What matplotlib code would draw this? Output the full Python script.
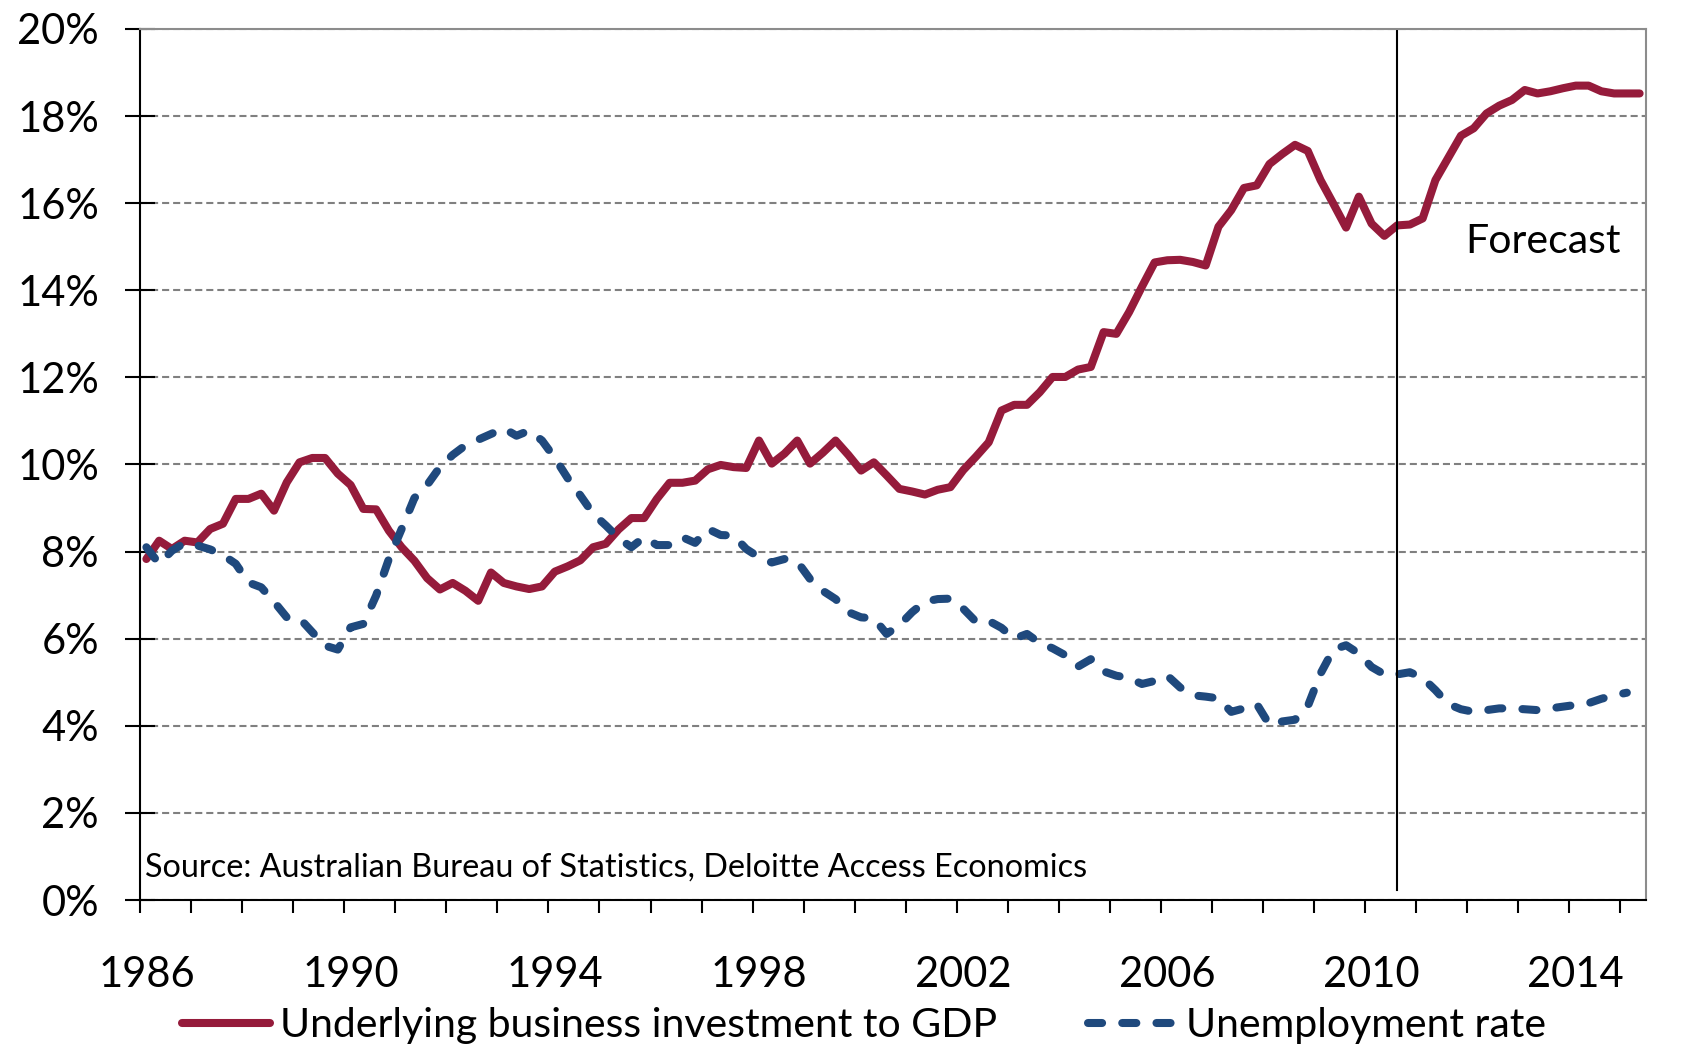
import numpy as np
import matplotlib.pyplot as plt

plt.rcParams['font.family'] = ['Lato', 'DejaVu Sans']

# quarterly, index 0 = 1986
start_year = 1986
forecast_start = 98

investment = [7.83, 8.25, 8.06, 8.25, 8.21, 8.52, 8.64, 9.21, 9.21, 9.33,
              8.94, 9.59, 10.05, 10.15, 10.15, 9.79, 9.53, 8.98, 8.97, 8.48,
              8.10, 7.79, 7.39, 7.13, 7.28, 7.10, 6.87, 7.52, 7.28, 7.20,
              7.14, 7.20, 7.54, 7.66, 7.80, 8.10, 8.18, 8.51, 8.77, 8.77,
              9.21, 9.58, 9.58, 9.63, 9.89, 9.99, 9.94, 9.92, 10.55, 10.02,
              10.25, 10.55, 10.02, 10.27, 10.55, 10.22, 9.86, 10.05, 9.75, 9.44,
              9.38, 9.31, 9.42, 9.48, 9.87, 10.18, 10.51, 11.24, 11.37, 11.37,
              11.66, 12.01, 12.01, 12.18, 12.24, 13.04, 13.00, 13.50, 14.08, 14.64,
              14.69, 14.70, 14.65, 14.57, 15.46, 15.84, 16.35, 16.41, 16.90, 17.13,
              17.34, 17.20, 16.53, 15.99, 15.44, 16.15, 15.53, 15.25, 15.49, 15.51,
              15.65, 16.53, 17.04, 17.55, 17.72, 18.06, 18.24, 18.37, 18.60, 18.52,
              18.57, 18.64, 18.70, 18.70, 18.57, 18.52, 18.52, 18.52]

unemployment = [8.10, 7.72, 8.02, 8.20, 8.14, 8.05, 7.92, 7.72, 7.29, 7.18,
                6.85, 6.49, 6.47, 6.15, 5.84, 5.75, 6.26, 6.34, 6.99, 7.83,
                8.52, 9.23, 9.53, 9.94, 10.22, 10.44, 10.57, 10.70, 10.83, 10.66,
                10.78, 10.55, 10.15, 9.69, 9.29, 8.87, 8.60, 8.31, 8.10, 8.33,
                8.15, 8.15, 8.33, 8.20, 8.52, 8.38, 8.37, 8.06, 7.87, 7.75,
                7.83, 7.77, 7.37, 7.10, 6.91, 6.61, 6.49, 6.47, 6.11, 6.31,
                6.61, 6.85, 6.91, 6.92, 6.69, 6.39, 6.41, 6.25, 6.00, 6.11,
                5.90, 5.78, 5.62, 5.36, 5.53, 5.25, 5.15, 5.10, 4.96, 5.03,
                5.15, 4.88, 4.70, 4.67, 4.63, 4.32, 4.40, 4.50, 4.02, 4.10,
                4.14, 4.45, 5.20, 5.75, 5.85, 5.66, 5.35, 5.18, 5.18, 5.23,
                5.10, 4.82, 4.50, 4.38, 4.32, 4.36, 4.40, 4.40, 4.38, 4.36,
                4.40, 4.44, 4.48, 4.52, 4.62, 4.70, 4.76]

year_labels = [str(y) for y in range(1986, 2015, 4)]
y_ticks = list(range(0, 21, 2))

red = '#951B3B'
blue = '#1F497D'

fig = plt.figure(figsize=(17.01, 10.64), dpi=100)
ax = fig.add_axes([140/1701, 1 - 900/1064, 1506/1701, 871/1064])

n_quarters = len(investment)
ax.plot(np.arange(n_quarters), investment, color=red, lw=5.8,
        solid_capstyle='round', solid_joinstyle='round',
        label='Underlying business investment to GDP')
ax.plot(np.arange(len(unemployment)), unemployment, color=blue, lw=5.8,
        dashes=(1.75, 2.5), dash_capstyle='round', solid_joinstyle='round',
        label='Unemployment rate')

ax.set_xlim(-0.5, n_quarters - 0.5)
ax.set_ylim(0, 20)

# tick marks every year (4 quarters), labels every 4 years
ax.set_xticks(np.arange(-0.5, n_quarters, 4))
ax.set_xticklabels([])
ax.tick_params(axis='x', which='major', direction='out', length=9.5, width=1.5)
ax.set_xticks([(y - start_year) * 4 for y in range(1986, 2015, 4)], minor=True)
ax.set_xticklabels(year_labels, minor=True)
ax.tick_params(axis='x', which='minor', length=0, labelsize=30, pad=40)

ax.set_yticks(y_ticks)
ax.set_yticklabels([f'{v}%' for v in y_ticks])
ax.tick_params(axis='y', direction='inout', length=21, width=1.5,
               labelsize=30, pad=19)

ax.grid(axis='y', color='#808080', lw=1.5, dashes=(3.4, 1.9))
ax.set_axisbelow(True)

for side in ['left', 'bottom']:
    ax.spines[side].set_color('black')
    ax.spines[side].set_linewidth(1.5)
for side in ['top', 'right']:
    ax.spines[side].set_color('#8c8c8c')
    ax.spines[side].set_linewidth(1.5)

ax.axvline(forecast_start, ymin=0.012, color='black', lw=1.5)
ax.text(0.983, 0.7427, 'Forecast', transform=ax.transAxes, ha='right',
        va='baseline', fontsize=29.5)
ax.text(0.003, 0.027, 'Source: Australian Bureau of Statistics, Deloitte Access Economics',
        transform=ax.transAxes, ha='left', va='baseline', fontsize=23.3)

fig.legend(loc='center', bbox_to_anchor=(0.508, 0.036), ncol=2, frameon=False,
           fontsize=29.5, handlelength=2.15, handletextpad=0.25, columnspacing=2.2,
           borderaxespad=0)

fig.savefig('out.png', dpi=100)
